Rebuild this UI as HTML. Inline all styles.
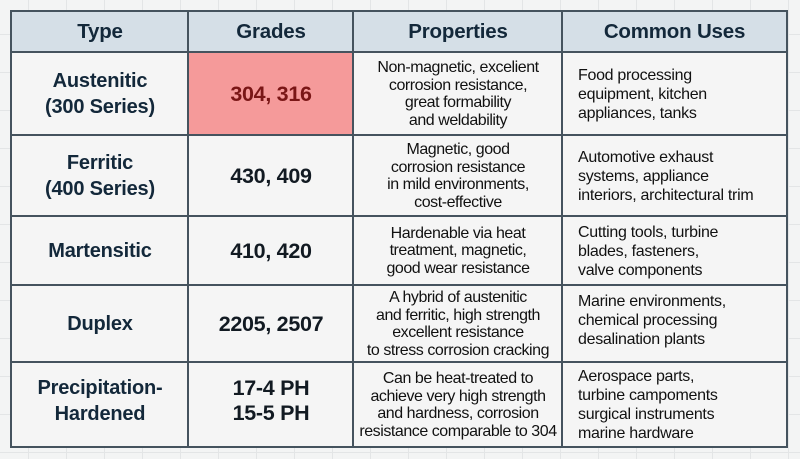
<!DOCTYPE html>
<html><head><meta charset="utf-8">
<style>
html,body{margin:0;padding:0}
body{width:800px;height:459px;overflow:hidden;position:relative;font-family:"Liberation Sans",sans-serif;color:#13283a;
background-color:#f3f4f4;
background-image:linear-gradient(#e3e5e6 1px,transparent 1px),linear-gradient(90deg,#e3e5e6 1px,transparent 1px);
background-size:38px 38px;background-position:-10px -4px;}
.t{position:absolute;left:10px;top:10px;width:778px;height:438px;border:2px solid #45535e;box-sizing:border-box;background:#f5f5f5;}
.c{position:absolute;display:flex;align-items:center;justify-content:center;text-align:center;box-sizing:border-box;white-space:nowrap;}
.h{background:#d5dfe7;font-weight:bold;font-size:20.5px;letter-spacing:-0.2px}
.ty{font-weight:bold;font-size:20px;line-height:26px;letter-spacing:-0.2px}
.g{font-weight:bold;font-size:21.5px;line-height:25px;color:#121a22;letter-spacing:-0.3px}
.p{font-size:16px;line-height:17.5px;letter-spacing:-0.45px;color:#111}
.u{font-size:16px;line-height:19px;letter-spacing:-0.3px;justify-content:flex-start;text-align:left;padding-left:15px;color:#111}
.hl{position:absolute;height:2px;background:#45535e;left:10px;width:778px}
.vl{position:absolute;width:2px;background:#45535e;top:10px;height:438px}
</style></head><body>
<div class="t"></div>
<div class="c h" style="left:12px;top:12px;width:176px;height:40px">Type</div>
<div class="c h" style="left:189px;top:12px;width:164px;height:40px">Grades</div>
<div class="c h" style="left:354px;top:12px;width:208px;height:40px">Properties</div>
<div class="c h" style="left:563px;top:12px;width:223px;height:40px">Common Uses</div>
<div class="c" style="left:189px;top:53px;width:164px;height:82px;background:#f59a9a"></div>

<div class="c ty" style="left:12px;top:53px;width:176px;height:82px">Austenitic<br>(300 Series)</div>
<div class="c g" style="left:189px;top:53px;width:164px;height:82px;color:#7a1616">304, 316</div>
<div class="c p" style="left:354px;top:53px;width:208px;height:82px">Non-magnetic, excelient<br>corrosion resistance,<br>great formability<br>and weldability</div>
<div class="c u" style="left:563px;top:53px;width:223px;height:82px">Food processing<br>equipment, kitchen<br>appliances, tanks</div>

<div class="c ty" style="left:12px;top:136px;width:176px;height:80px">Ferritic<br>(400 Series)</div>
<div class="c g" style="left:189px;top:136px;width:164px;height:80px">430, 409</div>
<div class="c p" style="left:354px;top:136px;width:208px;height:80px">Magnetic, good<br>corrosion resistance<br>in mild environments,<br>cost-effective</div>
<div class="c u" style="left:563px;top:136px;width:223px;height:80px">Automotive exhaust<br>systems, appliance<br>interiors, architectural trim</div>

<div class="c ty" style="left:12px;top:217px;width:176px;height:68px">Martensitic</div>
<div class="c g" style="left:189px;top:217px;width:164px;height:68px">410, 420</div>
<div class="c p" style="left:354px;top:217px;width:208px;height:68px">Hardenable via heat<br>treatment, magnetic,<br>good wear resistance</div>
<div class="c u" style="left:563px;top:217px;width:223px;height:68px">Cutting tools, turbine<br>blades, fasteners,<br>valve components</div>

<div class="c ty" style="left:12px;top:286px;width:176px;height:76px">Duplex</div>
<div class="c g" style="left:189px;top:286px;width:164px;height:76px">2205, 2507</div>
<div class="c p" style="left:354px;top:286px;width:208px;height:76px">A hybrid of austenitic<br>and ferritic, high strength<br>excellent resistance<br>to stress corrosion cracking</div>
<div class="c u" style="left:563px;top:286px;width:223px;height:76px;align-items:flex-start;padding-top:6px">Marine environments,<br>chemical processing<br>desalination plants</div>

<div class="c ty" style="left:12px;top:363px;width:176px;height:84px;padding-bottom:8px">Precipitation-<br>Hardened</div>
<div class="c g" style="left:189px;top:363px;width:164px;height:84px;padding-bottom:8px">17-4 PH<br>15-5 PH</div>
<div class="c p" style="left:354px;top:363px;width:208px;height:84px">Can be heat-treated to<br>achieve very high strength<br>and hardness, corrosion<br>resistance comparable to 304</div>
<div class="c u" style="left:563px;top:363px;width:223px;height:84px">Aerospace parts,<br>turbine campoments<br>surgical instruments<br>marine hardware</div>

<div class="hl" style="top:51px"></div>
<div class="hl" style="top:134px"></div>
<div class="hl" style="top:215px"></div>
<div class="hl" style="top:284px"></div>
<div class="hl" style="top:361px"></div>
<div class="vl" style="left:187px"></div>
<div class="vl" style="left:352px"></div>
<div class="vl" style="left:561px"></div>
</body></html>
